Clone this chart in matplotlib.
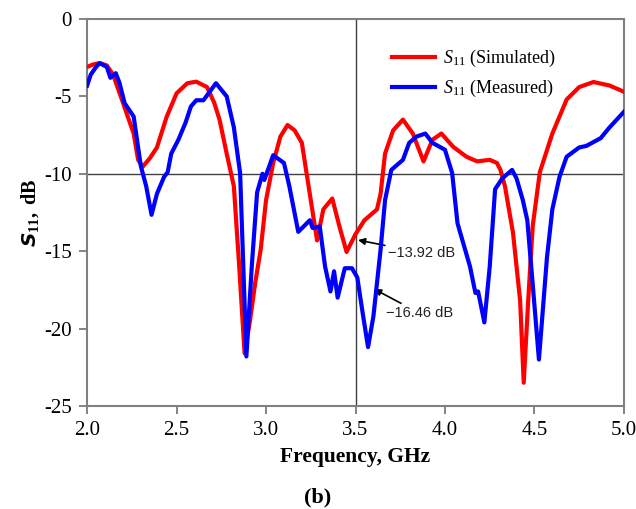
import matplotlib
matplotlib.use("Agg")
import matplotlib.pyplot as plt
import numpy as np

# simulated S11 (red)
f_sim = [2.00, 2.03, 2.07, 2.11, 2.145, 2.20, 2.26, 2.285, 2.31, 2.35, 2.39, 2.445,
         2.50, 2.56, 2.61, 2.67, 2.71, 2.74, 2.78, 2.82, 2.85, 2.88, 2.91, 2.94,
         2.97, 3.00, 3.04, 3.08, 3.12, 3.16, 3.20, 3.235, 3.285, 3.32, 3.37, 3.41,
         3.45, 3.50, 3.55, 3.60, 3.62, 3.64, 3.665, 3.71, 3.765, 3.82, 3.88, 3.93,
         3.98, 4.045, 4.12, 4.18, 4.25, 4.29, 4.31, 4.335, 4.38, 4.42, 4.44, 4.465,
         4.49, 4.53, 4.60, 4.68, 4.75, 4.83, 4.92, 5.00]
s_sim = [-3.1, -2.95, -2.85, -3.0, -3.6, -5.4, -7.4, -9.1, -9.55, -9.0, -8.3, -6.3,
         -4.8, -4.15, -4.05, -4.4, -5.4, -6.5, -8.7, -10.8, -16.0, -21.6, -19.5, -17.0,
         -14.9, -11.7, -9.3, -7.6, -6.85, -7.2, -8.0, -10.6, -14.3, -12.3, -11.6, -13.4,
         -15.05, -13.9, -13.0, -12.5, -12.3, -11.3, -8.7, -7.2, -6.5, -7.4, -9.2, -7.8,
         -7.4, -8.25, -8.9, -9.2, -9.1, -9.3, -9.75, -10.8, -13.8, -18.2, -23.5, -18.2,
         -13.4, -9.9, -7.4, -5.2, -4.4, -4.07, -4.3, -4.7]

# measured S11 (blue)
f_meas = [2.00, 2.02, 2.05, 2.07, 2.11, 2.13, 2.16, 2.18, 2.21, 2.26, 2.30, 2.33,
          2.36, 2.39, 2.43, 2.45, 2.47, 2.51, 2.55, 2.58, 2.61, 2.65, 2.72, 2.78,
          2.82, 2.855, 2.89, 2.92, 2.95, 2.98, 2.99, 3.04, 3.10, 3.13, 3.18, 3.245,
          3.26, 3.30, 3.33, 3.36, 3.38, 3.40, 3.44, 3.48, 3.51, 3.54, 3.57, 3.60,
          3.64, 3.665, 3.70, 3.765, 3.80, 3.84, 3.89, 3.93, 4.00, 4.04, 4.07, 4.14,
          4.17, 4.185, 4.22, 4.25, 4.28, 4.32, 4.375, 4.40, 4.435, 4.46, 4.49, 4.525,
          4.57, 4.60, 4.64, 4.68, 4.75, 4.79, 4.87, 4.92, 5.00]
s_meas = [-4.3, -3.6, -3.1, -2.85, -3.1, -3.8, -3.5, -4.1, -5.45, -6.3, -9.5, -10.8,
          -12.65, -11.3, -10.2, -9.9, -8.7, -7.8, -6.7, -5.65, -5.25, -5.25, -4.15, -5.0,
          -7.0, -9.96, -21.8, -16.0, -11.2, -10.0, -10.4, -8.8, -9.3, -10.8, -13.75, -13.0,
          -13.5, -13.4, -16.0, -17.6, -16.3, -18.0, -16.1, -16.1, -16.7, -19.0, -21.2, -19.2,
          -14.9, -11.7, -9.75, -9.1, -8.0, -7.6, -7.4, -8.0, -8.45, -9.95, -13.2, -16.0,
          -17.7, -17.6, -19.6, -16.0, -11.0, -10.3, -9.75, -10.3, -11.7, -13.0, -17.1, -22.0,
          -15.4, -12.3, -10.2, -8.9, -8.3, -8.2, -7.7, -7.0, -6.0]

x_ticks = [2.0, 2.5, 3.0, 3.5, 4.0, 4.5, 5.0]
y_ticks = [0, -5, -10, -15, -20, -25]

plt.rcParams['font.family'] = ['Liberation Serif', 'DejaVu Serif']
plt.rcParams['mathtext.fontset'] = 'custom'
plt.rcParams['mathtext.it'] = 'Liberation Serif:italic'
plt.rcParams['mathtext.rm'] = 'Liberation Serif'
plt.rcParams['mathtext.bf'] = 'Liberation Serif:bold'

fig = plt.figure(figsize=(6.36, 5.09), dpi=100)
ax = fig.add_axes([0.137, 0.2024, 0.844, 0.7603])

ax.axhline(-10, color='#404040', lw=1.0, zorder=1)
ax.axvline(3.5, color='#404040', lw=1.0, zorder=1)

ax.plot(f_sim, s_sim, color='#ff0000', lw=3.0, label=r'$S_{11}$ (Simulated)', zorder=3,
        solid_joinstyle='round')
ax.plot(f_meas, s_meas, color='#0000ff', lw=3.0, label=r'$S_{11}$ (Measured)', zorder=4,
        solid_joinstyle='round')

ax.set_xlim(2.0, 5.0)
ax.set_ylim(-25, 0)
ax.set_xticks(x_ticks)
ax.set_xticklabels([f"{v:.1f}" for v in x_ticks])
ax.set_yticks(y_ticks)
ax.set_yticklabels([str(v) for v in y_ticks])
ax.tick_params(direction='out', length=6, width=1.2, color='#707070', labelsize=15, pad=5)

for s in ax.spines.values():
    s.set_color('#808080')
    s.set_linewidth(1.5)

ax.set_xlabel('Frequency, GHz', fontsize=15.5, fontweight='bold', labelpad=5)
ax.set_ylabel(r'$\mathbfit{S}_{\mathbf{11}}$$\mathbf{,\ dB}$', fontsize=14.5, labelpad=2)

ax.annotate('\u221213.92 dB', xy=(3.514, -14.28), xytext=(3.68, -15.1),
            fontsize=10.5, family='Liberation Sans', color='#222222', va='center',
            arrowprops=dict(arrowstyle='-|>', color='black', lw=1.2, shrinkA=0, shrinkB=0,
                            mutation_scale=10))
ax.annotate('\u221216.46 dB', xy=(3.508, -16.86), xytext=(3.67, -19.0),
            fontsize=10.5, family='Liberation Sans', color='#222222', va='center',
            arrowprops=dict(arrowstyle='-|>', color='black', lw=1.2, shrinkA=0, shrinkB=14,
                            mutation_scale=10))

ax.legend(loc='upper left', bbox_to_anchor=(0.568, 0.925), frameon=False, fontsize=13,
          handlelength=2.4, handletextpad=0.45, labelspacing=0.5, borderpad=0,
          borderaxespad=0)

fig.text(0.5, 1 - 497 / 509, '(b)', ha='center', va='center', fontsize=16, fontweight='bold')

fig.savefig('out.png', dpi=100)
